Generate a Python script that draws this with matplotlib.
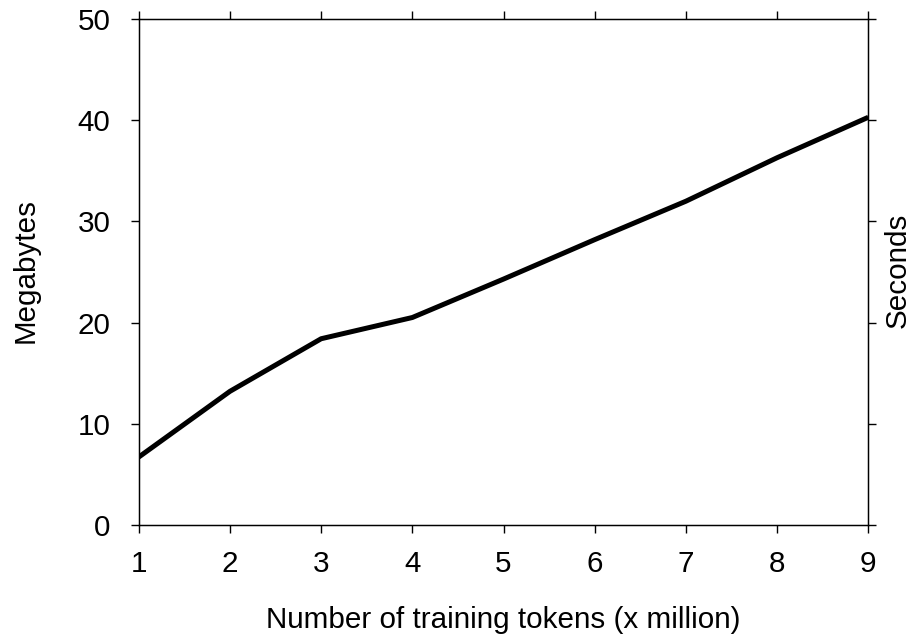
import matplotlib
matplotlib.use("Agg")
import matplotlib.pyplot as plt

tokens = [1, 2, 3, 4, 5, 6, 7, 8, 9]
megabytes = [6.7, 13.2, 18.4, 20.5, 24.3, 28.2, 32.0, 36.3, 40.3]
y_ticks = [0, 10, 20, 30, 40, 50]

plt.rcParams['font.family'] = ['Liberation Sans', 'DejaVu Sans']
fs = 21.3

fig = plt.figure(figsize=(9.13, 6.4), dpi=100)
ax = fig.add_axes([0.152, 0.180, 0.799, 0.790])

ax.plot(tokens, megabytes, color='black', linewidth=3.6, solid_capstyle='butt')

ax.set_xlim(1, 9)
ax.set_ylim(0, 50)
ax.set_xticks(tokens)
ax.set_yticks(y_ticks)
ax.tick_params(direction='out', length=6, width=1, labelsize=fs,
               top=True, labeltop=False)
ax.tick_params(axis='x', pad=12)
ax.tick_params(axis='y', pad=14.5)
for s in ax.spines.values():
    s.set_linewidth(1)

# right axis: same ticks, no labels
ax2 = ax.twinx()
ax2.set_ylim(0, 50)
ax2.set_yticks(y_ticks)
ax2.tick_params(direction='out', length=6, width=1, labelright=False)

fig.text(0.551, 0.031, 'Number of training tokens (x million)', fontsize=fs,
         ha='center', va='center')
fig.text(0.028, 0.577, 'Megabytes', fontsize=fs, rotation=90,
         ha='center', va='center')
fig.text(0.983, 0.577, 'Seconds', fontsize=fs, rotation=90,
         ha='center', va='center')

fig.savefig('out.png', dpi=100)
